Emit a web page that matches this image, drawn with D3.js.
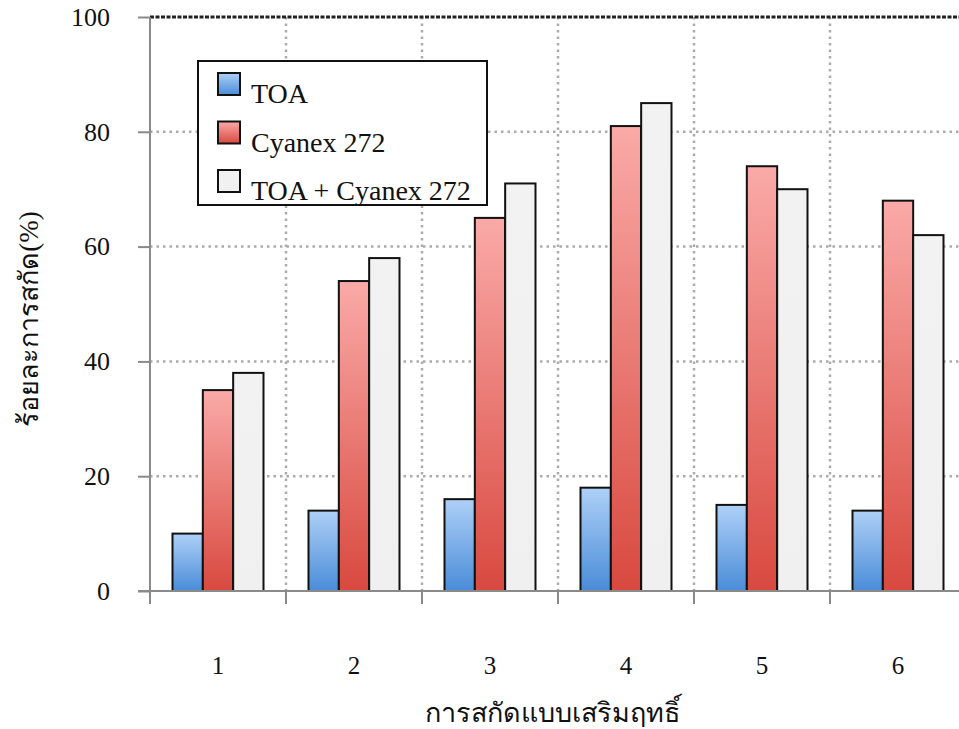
<!DOCTYPE html>
<html>
<head>
<meta charset="utf-8">
<script src="https://cdn.jsdelivr.net/npm/d3@7"></script>
<style>
  body { margin: 0; background: #fff; }
  text { font-family: "Liberation Serif", "Times New Roman", serif; fill: #111; }
</style>
</head>
<body>
<div id="chart"></div>
<script>
// Data
var categories = ["1", "2", "3", "4", "5", "6"];
var seriesNames = ["TOA", "Cyanex 272", "TOA + Cyanex 272"];
var toaValues = [10, 14, 16, 18, 15, 14];
var cyanexValues = [35, 54, 65, 81, 74, 68];
var comboValues = [38, 58, 71, 85, 70, 62];
var yTicks = [0, 20, 40, 60, 80, 100];

var seriesValues = [toaValues, cyanexValues, comboValues];

// Set the dimensions and margins of the graph
var margin = {top: 17, right: 0, bottom: 138, left: 150},
    width = 816,
    height = 729 - margin.top - margin.bottom;

var svg = d3.select("#chart")
  .append("svg")
    .attr("width", 959)
    .attr("height", 729)
  .append("g")
    .attr("transform", `translate(${margin.left},${margin.top})`);

// Gradients for the bars
var defs = svg.append("defs");
var fills = [
  {id: "gBlue", top: "#aed0f7", bottom: "#4a8cd8"},
  {id: "gRed", top: "#faaaa8", bottom: "#d8493f"},
  {id: "gGray", top: "#f2f2f2", bottom: "#f0f0f0"}
];
fills.forEach(f => {
  var g = defs.append("linearGradient")
    .attr("id", f.id)
    .attr("x1", 0).attr("y1", 0).attr("x2", 0).attr("y2", 1);
  g.append("stop").attr("offset", "0%").attr("stop-color", f.top);
  g.append("stop").attr("offset", "100%").attr("stop-color", f.bottom);
});

// Scales
var x0 = d3.scaleBand()
  .domain(categories)
  .range([0, width]);

var x1 = d3.scaleBand()
  .domain(seriesNames)
  .range([22.5, x0.bandwidth() - 22.5]);

var y = d3.scaleLinear()
  .domain([0, 100])
  .range([height, 0]);

// Horizontal grid lines (dotted)
svg.append("g")
  .selectAll("line")
  .data(yTicks.filter(d => d > 0 && d < 100))
  .join("line")
    .attr("x1", 0)
    .attr("x2", width)
    .attr("y1", d => y(d))
    .attr("y2", d => y(d))
    .attr("stroke", "#ababab")
    .attr("stroke-width", 2.5)
    .attr("stroke-dasharray", "2.5,4");

// Vertical grid lines at the category boundaries
svg.append("g")
  .selectAll("line")
  .data(categories.slice(1))
  .join("line")
    .attr("x1", d => x0(d))
    .attr("x2", d => x0(d))
    .attr("y1", 0)
    .attr("y2", height)
    .attr("stroke", "#ababab")
    .attr("stroke-width", 2.5)
    .attr("stroke-dasharray", "2.5,4");

// Top border line at 100
svg.append("line")
  .attr("x1", 0)
  .attr("x2", width)
  .attr("y1", y(100))
  .attr("y2", y(100))
  .attr("stroke", "#222")
  .attr("stroke-width", 3)
  .attr("stroke-dasharray", "4,1.5");

// Bars
var groups = svg.append("g")
  .selectAll("g")
  .data(categories)
  .join("g")
    .attr("transform", d => `translate(${x0(d)},0)`);

groups.selectAll("rect")
  .data((d, i) => seriesNames.map((s, j) => ({series: s, idx: j, value: seriesValues[j][i]})))
  .join("rect")
    .attr("x", d => x1(d.series))
    .attr("y", d => y(d.value))
    .attr("width", x1.bandwidth())
    .attr("height", d => y(0) - y(d.value))
    .attr("fill", d => `url(#${fills[d.idx].id})`)
    .attr("stroke", "#111")
    .attr("stroke-width", 2);

// Y axis
var yAxis = svg.append("g")
  .call(d3.axisLeft(y).tickValues(yTicks).tickSize(12).tickPadding(28));
yAxis.select(".domain").attr("stroke", "#8a8a8a").attr("stroke-width", 2)
  .attr("d", `M0,${y(100)}V${height + 12}`);
yAxis.selectAll(".tick line").attr("stroke", "#8a8a8a").attr("stroke-width", 2);
yAxis.selectAll(".tick text")
  .style("font-family", "'Liberation Serif', serif")
  .style("font-size", "26px")
  .attr("fill", "#111");

// X axis: baseline, boundary ticks and centred labels
var xBase = svg.append("g").attr("transform", `translate(0,${height})`);
xBase.append("line")
  .attr("x1", -12)
  .attr("x2", width)
  .attr("stroke", "#8a8a8a")
  .attr("stroke-width", 2);
xBase.selectAll(".btick")
  .data(categories)
  .join("line")
    .attr("class", "btick")
    .attr("x1", d => x0(d))
    .attr("x2", d => x0(d))
    .attr("y1", 0)
    .attr("y2", 13)
    .attr("stroke", "#8a8a8a")
    .attr("stroke-width", 2);
xBase.selectAll(".xlabel")
  .data(categories)
  .join("text")
    .attr("class", "xlabel")
    .attr("x", d => x0(d) + x0.bandwidth() / 2)
    .attr("y", 83)
    .attr("text-anchor", "middle")
    .style("font-size", "25px")
    .text(d => d);

// Axis titles
svg.append("text")
  .attr("x", width / 2 - 6)
  .attr("y", height + 131)
  .attr("text-anchor", "middle")
  .style("font-size", "27px")
  .text("การสกัดแบบเสริมฤทธิ์");

svg.append("text")
  .attr("transform", `translate(${-112},${height / 2 + 15}) rotate(-90)`)
  .attr("text-anchor", "middle")
  .style("font-size", "27px")
  .text("ร้อยละการสกัด(%)");

// Legend
var legend = svg.append("g").attr("transform", `translate(${48},${44})`);
legend.append("rect")
  .attr("width", 289)
  .attr("height", 144)
  .attr("fill", "#fff")
  .attr("stroke", "#111")
  .attr("stroke-width", 2);

var items = legend.selectAll(".item")
  .data(seriesNames)
  .join("g")
    .attr("class", "item")
    .attr("transform", (d, i) => `translate(20,${12 + i * 48.5})`);

items.append("rect")
  .attr("width", 22)
  .attr("height", 22)
  .attr("fill", (d, i) => `url(#${fills[i].id})`)
  .attr("stroke", "#111")
  .attr("stroke-width", 2);

items.append("text")
  .attr("x", 33)
  .attr("y", 30)
  .style("font-size", "28px")
  .text(d => d);
</script>
</body>
</html>
